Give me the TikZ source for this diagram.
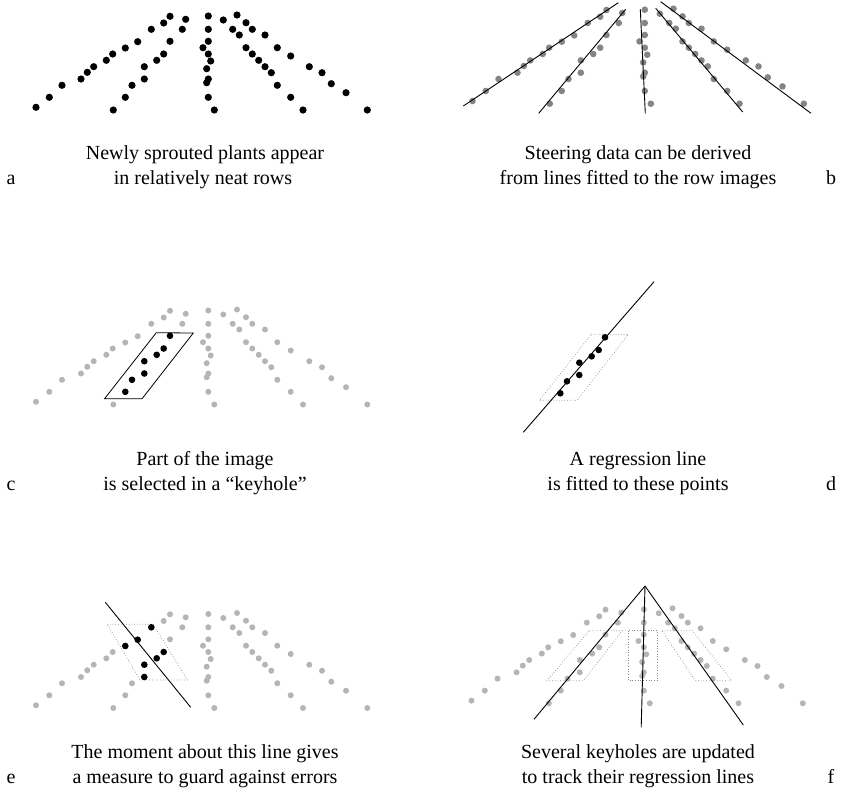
\documentclass[tikz,border=0pt]{standalone}
\usepackage{fontspec}
\setmainfont{Liberation Serif}
\definecolor{midgray}{HTML}{858585}
\definecolor{lightgray}{HTML}{B5B5B5}
\definecolor{boxgray}{HTML}{8A8A8A}
\begin{document}
\begin{tikzpicture}[x=1pt,y=-1pt,
  blackdot/.style={fill=black},
  graydot/.style={fill=midgray},
  palledot/.style={fill=lightgray},
  keyholebox/.style={draw=black,line width=0.8pt,line join=miter},
  dotbox/.style={draw=boxgray,dotted,line width=0.7pt},
  regline/.style={draw=black,line width=0.9pt},
  captext/.style={font=\fontsize{20}{25}\selectfont,inner sep=0pt,anchor=base},
  letter/.style={font=\fontsize{20}{25}\selectfont,inner sep=0pt,anchor=base}]
\path[use as bounding box] (0,0) rectangle (844,796);
\def\alldots{36/107.3,49.3/97.3,62/85.3,81/79,87.3/72.3,93.7/66.7,106.3/60.3,112.7/54,125.3/48,137.7/41.7,151.3/29.3,163.7/23,170/16.3,
113.3/110,125.3/97.3,132/85.3,144.3/79,144.3/66.7,156.7/60.3,163.7/54,170/41.3,182.3/29.3,185.7/19.3,
208.3/16,208.3/29.3,208.3/41.3,203/47.7,208.3/54,210.7/61,206.7/68.7,208.3/79,206.7/82.7,208.3/97.3,214.3/110,
223.3/20,232.7/29.3,239.3/35,246/47.7,252.3/54,258.7/60.3,265/66.7,271.3/72.7,277.3/85.3,290.7/97.3,303/110,
237/15,246/22.7,252.3/29.3,265/35,277.3/47.7,290.7/56,309.3/66.7,322/72.7,331.3/83.7,346/92.7,367.3/110}
\def\keyc{125.3/97.3,132/85.3,144.3/79,144.3/66.7,156.7/60.3,163.7/54,170/41.3}
\def\keye{151.3/29.3,137.7/41.7,125.3/48,163.7/54,156.7/60.3,144.3/66.7,144.3/79}
% ---------- panel a
\begin{scope}
  \foreach \px/\py in \alldots {\fill[blackdot] (\px,\py) circle (3.6pt);}
\end{scope}
\node[captext] (capa1) at (205,159) {Newly sprouted plants appear};
\node[captext] (capa2) at (203,184) {in relatively neat rows};
\node[letter] (la) at (11,184) {a};
% ---------- panel b
\begin{scope}[shift={(436.5,-6.3)}]
  \foreach \px/\py in \alldots {\fill[graydot] (\px,\py) circle (3.3pt);}
\end{scope}
\coordinate (b1s) at (463.3,106);  \coordinate (b1e) at (618.3,2.7);
\coordinate (b2s) at (538.7,113.3); \coordinate (b2e) at (625.7,9.3);
\coordinate (b3s) at (640.3,9.3);  \coordinate (b3e) at (645.3,113.3);
\coordinate (b4s) at (655.7,8.3);  \coordinate (b4e) at (742.7,112);
\coordinate (b5s) at (660.7,1.7);  \coordinate (b5e) at (811,113.3);
\draw[regline] (b1s) -- (b1e);
\draw[regline] (b2s) -- (b2e);
\draw[regline] (b3s) -- (b3e);
\draw[regline] (b4s) -- (b4e);
\draw[regline] (b5s) -- (b5e);
\node[captext] (capb1) at (638,159) {Steering data can be derived};
\node[captext] (capb2) at (638,184) {from lines fitted to the row images};
\node[letter] (lb) at (831,184) {b};
% ---------- panel c
\begin{scope}[shift={(0,294.5)}]
  \foreach \px/\py in \alldots {\fill[palledot] (\px,\py) circle (3.0pt);}
  \draw[keyholebox] (156.3,38.2) -- (193.3,38.5) -- (142,104.3) -- (104.5,104.3) -- cycle;
  \foreach \px/\py in \keyc {\fill[blackdot] (\px,\py) circle (3.3pt);}
\end{scope}
\node[captext] (capc1) at (205,465.5) {Part of the image};
\node[captext] (capc2) at (205,490.5) {is selected in a “keyhole”};
\node[letter] (lc) at (11,490.5) {c};
% ---------- panel d
\begin{scope}[shift={(435,296)}]
  \draw[dotbox] (156.3,38.2) -- (193.3,38.5) -- (142,104.3) -- (104.5,104.3) -- cycle;
  \foreach \px/\py in \keyc {\fill[blackdot] (\px,\py) circle (3.3pt);}
\end{scope}
\coordinate (ds) at (654,281.7); \coordinate (de) at (523.3,432.3);
\draw[regline] (ds) -- (de);
\node[captext] (capd1) at (638,465.5) {A regression line};
\node[captext] (capd2) at (638,490.5) {is fitted to these points};
\node[letter] (ld) at (831,490.5) {d};
% ---------- panel e
\begin{scope}[shift={(0,598)}]
  \foreach \px/\py in \alldots {\fill[palledot] (\px,\py) circle (3.0pt);}
  \draw[dotbox] (107.3,26.3) -- (153.3,26.3) -- (187.3,82) -- (140,82) -- cycle;
  \foreach \px/\py in \keye {\fill[blackdot] (\px,\py) circle (3.3pt);}
\end{scope}
\coordinate (es) at (105.3,602.3); \coordinate (ee) at (190.7,707.3);
\draw[regline] (es) -- (ee);
\node[captext] (cape1) at (205,758.5) {The moment about this line gives};
\node[captext] (cape2) at (205,783.5) {a measure to guard against errors};
\node[letter] (le) at (11,783.5) {e};
% ---------- panel f
\begin{scope}[shift={(435.5,593.3)}]
  \foreach \px/\py in \alldots {\fill[palledot] (\px,\py) circle (3.0pt);}
\end{scope}
\draw[dotbox] (589.3,630.7) -- (622.3,630.7) -- (583.3,680.7) -- (547,680.7) -- cycle;
\draw[dotbox] (628.3,630.7) rectangle (657.3,680.7);
\draw[dotbox] (662,630.7) -- (692.3,630.7) -- (731.7,680.7) -- (695.3,680.7) -- cycle;
\coordinate (apex) at (645,586);
\coordinate (fl) at (534,719.3);
\coordinate (fc) at (641.2,727.3);
\coordinate (fr) at (743.3,725);
\draw[regline] (apex) -- (fl);
\draw[regline] (apex) -- (fc);
\draw[regline] (apex) -- (fr);
\node[captext] (capf1) at (638,758.5) {Several keyholes are updated};
\node[captext] (capf2) at (638,783.5) {to track their regression lines};
\node[letter] (lf) at (831,783.5) {f};
\end{tikzpicture}
\end{document}
